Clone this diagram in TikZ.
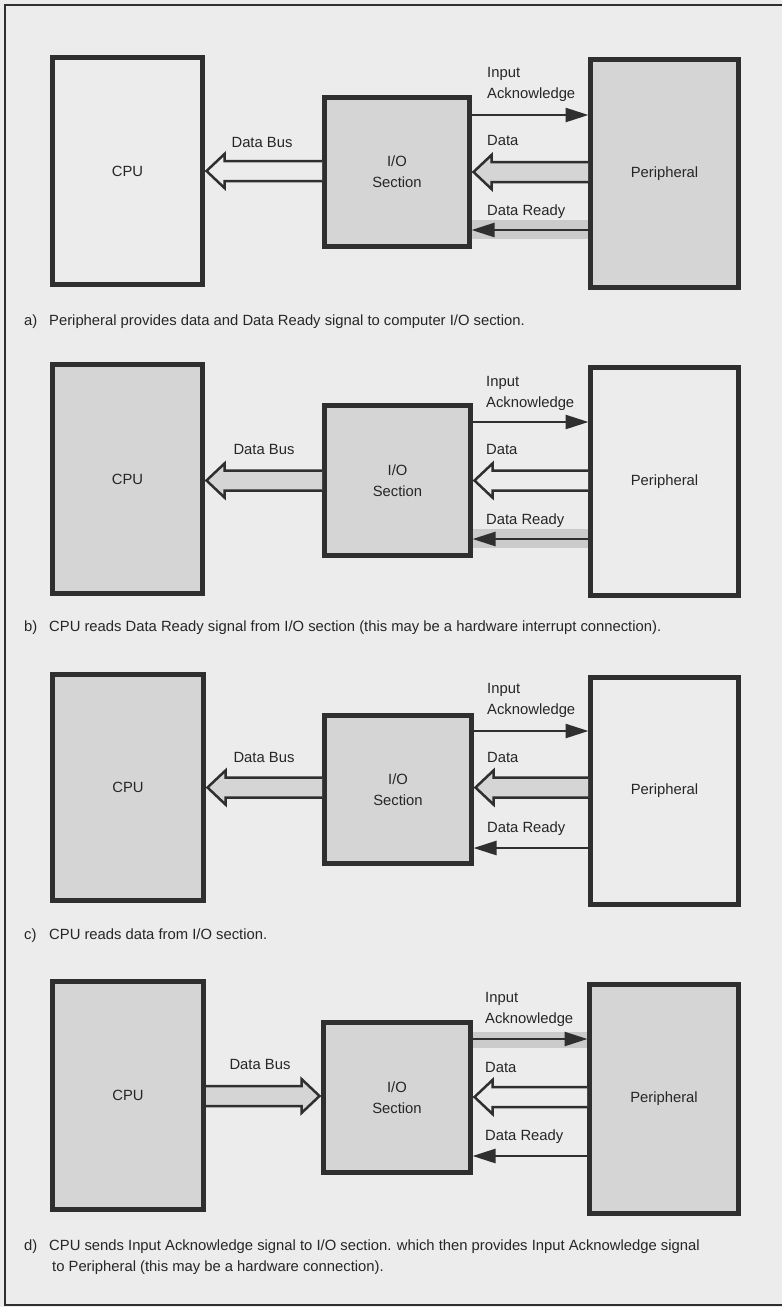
\documentclass[tikz,border=0pt]{standalone}
\usepackage{fontspec}
\setmainfont{Liberation Sans}
\usetikzlibrary{arrows.meta,calc}
\definecolor{bg}{HTML}{ECECEC}
\definecolor{boxg}{HTML}{D5D5D5}
\definecolor{bandc}{HTML}{CBCBCB}
\definecolor{ink}{HTML}{2F2F2F}
\definecolor{txt}{HTML}{262626}
% fat (hollow/filled) bus arrow: #1 tail anchor, #2 tip anchor, #3 y level, #4 fill
\newcommand\fatarrow[4]{%
  \filldraw[fatline, fill=#4] let \p1=(#1|-0,#3), \p2=(#2|-0,#3), \n1={sign(\x2-\x1)} in
    ({\x1+(\n1)*2.5pt},{\y1+10pt}) -- ({\x2-(\n1)*22pt},{\y1+10pt})
    -- ({\x2-(\n1)*22pt},{\y1+17pt}) -- ({\x2-(\n1)*4pt},{\y1})
    -- ({\x2-(\n1)*22pt},{\y1-17pt}) -- ({\x2-(\n1)*22pt},{\y1-10pt})
    -- ({\x1+(\n1)*2.5pt},{\y1-10pt});
}
\begin{document}
\begin{tikzpicture}[x=1pt,y=-1pt,
  every node/.style={font=\fontsize{14.8pt}{21pt}\selectfont, text=txt},
  blk/.style={draw=ink, line width=5pt, inner sep=0pt, outer sep=0pt, align=center},
  wbox/.style={blk, fill=bg},
  gbox/.style={blk, fill=boxg},
  sig/.style={draw=ink, line width=2.5pt, shorten <=2.5pt, shorten >=2pt,
              -{Triangle[length=23pt,width=14pt]}},
  fatline/.style={draw=ink, line width=2.5pt, line join=miter},
  hl/.style={draw=bandc, line width=19pt, shorten <=2.5pt, shorten >=2.5pt},
  lbl/.style={inner sep=0pt, anchor=north west, align=left},
  clbl/.style={inner sep=0pt, text height=10.6pt, text depth=0pt},
]
\useasboundingbox (0,0) rectangle (782,1307);
\fill[bg] (0,0) rectangle (782,1307);
\draw[ink, line width=2pt] (782,4.5) -- (4.5,4.5) -- (4.5,1305) -- (782,1305);

% ---------------- panel a ----------------
\node[wbox, minimum width=150pt, minimum height=227pt] (cpuA) at (127.5,171) {CPU};
\node[gbox, minimum width=145pt, minimum height=149pt] (ioA) at (397,172) {I/O\\Section};
\node[gbox, minimum width=148pt, minimum height=228pt] (perA) at (664.5,173.5) {Peripheral};
\draw[hl] (ioA.east|-0,229) -- (perA.west|-0,229);
\draw[sig] (ioA.east|-0,115) -- (perA.west|-0,115);
\fatarrow{ioA.west}{cpuA.east}{171}{bg}
\fatarrow{perA.west}{ioA.east}{172}{boxg}
\draw[sig] (perA.west|-0,230) -- (ioA.east|-0,230);
\node[lbl] (ackA) at (487,66.7) {Input\\Acknowledge};
\node[clbl] (busA) at (262,142) {Data Bus};
\node[clbl, anchor=west] (datA) at (487,140) {Data};
\node[clbl, anchor=west] (rdyA) at (487,210) {Data Ready};
\node[clbl, anchor=west] (capAl) at (24,320) {a)};
\node[clbl, anchor=west] (capA) at (49,320) {Peripheral provides data and Data Ready signal to computer I/O section.};

% ---------------- panel b ----------------
\node[gbox, minimum width=150pt, minimum height=229pt] (cpuB) at (127.5,479) {CPU};
\node[gbox, minimum width=146pt, minimum height=150pt] (ioB) at (397.5,480.5) {I/O\\Section};
\node[wbox, minimum width=148pt, minimum height=228pt] (perB) at (664.5,481.5) {Peripheral};
\draw[hl] (ioB.east|-0,538) -- (perB.west|-0,538);
\draw[sig] (ioB.east|-0,422) -- (perB.west|-0,422);
\fatarrow{ioB.west}{cpuB.east}{480.5}{boxg}
\fatarrow{perB.west}{ioB.east}{480.5}{bg}
\draw[sig] (perB.west|-0,539) -- (ioB.east|-0,539);
\node[lbl] (ackB) at (486,375.7) {Input\\Acknowledge};
\node[clbl] (busB) at (264,449) {Data Bus};
\node[clbl, anchor=west] (datB) at (486,449) {Data};
\node[clbl, anchor=west] (rdyB) at (486,519) {Data Ready};
\node[clbl, anchor=west] (capBl) at (24,626) {b)};
\node[clbl, anchor=west] (capB) at (49,626) {CPU reads Data Ready signal from I/O section (this may be a hardware interrupt connection).};

% ---------------- panel c ----------------
\node[gbox, minimum width=151pt, minimum height=226pt] (cpuC) at (128,787.5) {CPU};
\node[gbox, minimum width=147pt, minimum height=148pt] (ioC) at (398,789.5) {I/O\\Section};
\node[wbox, minimum width=148pt, minimum height=227pt] (perC) at (664.5,791) {Peripheral};
\draw[sig] (ioC.east|-0,731) -- (perC.west|-0,731);
\fatarrow{ioC.west}{cpuC.east}{787.5}{boxg}
\fatarrow{perC.west}{ioC.east}{787.5}{boxg}
\draw[sig] (perC.west|-0,848) -- (ioC.east|-0,848);
\node[lbl] (ackC) at (487,682.7) {Input\\Acknowledge};
\node[clbl] (busC) at (264,757) {Data Bus};
\node[clbl, anchor=west] (datC) at (487,757) {Data};
\node[clbl, anchor=west] (rdyC) at (487,827) {Data Ready};
\node[clbl, anchor=west] (capCl) at (24,934) {c)};
\node[clbl, anchor=west] (capC) at (49,934) {CPU reads data from I/O section.};

% ---------------- panel d ----------------
\node[gbox, minimum width=151pt, minimum height=228pt] (cpuD) at (128,1095.5) {CPU};
\node[gbox, minimum width=147pt, minimum height=150pt] (ioD) at (397,1097.5) {I/O\\Section};
\node[gbox, minimum width=149pt, minimum height=229pt] (perD) at (664,1099) {Peripheral};
\draw[hl, line width=16pt] (ioD.east|-0,1039.5) -- (perD.west|-0,1039.5);
\draw[sig] (ioD.east|-0,1039) -- (perD.west|-0,1039);
\fatarrow{cpuD.east}{ioD.west}{1096}{boxg}
\fatarrow{perD.west}{ioD.east}{1097}{bg}
\draw[sig] (perD.west|-0,1156) -- (ioD.east|-0,1156);
\node[lbl] (ackD) at (485,991.7) {Input\\Acknowledge};
\node[clbl] (busD) at (260,1064) {Data Bus};
\node[clbl, anchor=west] (datD) at (485,1067) {Data};
\node[clbl, anchor=west] (rdyD) at (485,1135) {Data Ready};
\node[clbl, anchor=west] (capDl) at (24,1245) {d)};
\node[lbl] (capD) at (49,1239.7) {CPU sends Input Acknowledge signal to I/O section. which then provides Input Acknowledge signal\\\hspace*{3pt}to Peripheral (this may be a hardware connection).};
\end{tikzpicture}
\end{document}
